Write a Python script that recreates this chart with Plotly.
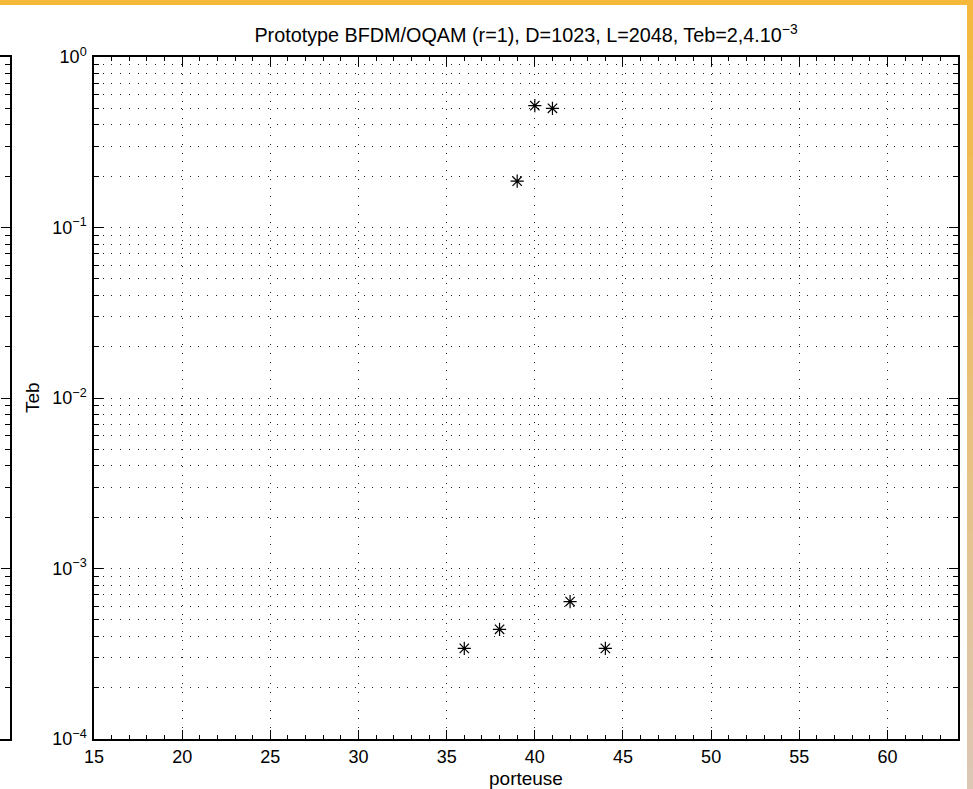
import plotly.graph_objects as go

# Measured bit error rate per carrier
porteuse = [36, 38, 39, 40, 41, 42, 44]
teb = [3.4e-4, 4.4e-4, 0.187, 0.518, 0.50, 6.4e-4, 3.4e-4]

x_ticks = [15, 20, 25, 30, 35, 40, 45, 50, 55, 60]
y_exponents = [-4, -3, -2, -1, 0]

W, H = 973, 789
FONT = "Liberation Sans, Arial, Helvetica, sans-serif"
TICK_SIZE = 18
TITLE_SIZE = 19.8
LABEL_SIZE = 19

# plot box in pixels
L, R, T, B = 94, 958, 57, 739
xdom = [L / W, R / W]
ydom = [(H - B) / H, (H - T) / H]

y_major = [10.0 ** e for e in y_exponents]
y_text = ["10<sup>%s</sup>" % (str(e).replace("-", "\u2212")) for e in y_exponents]
y_minor = [m * 10.0 ** e for e in y_exponents[:-1] for m in range(2, 10)]

GRID_DASH = "1px,7.7px"
GRID_COLOR = "#222"

fig = go.Figure()
fig.add_trace(go.Scatter(
    x=porteuse, y=teb, mode="markers",
    marker=dict(symbol="asterisk-open", size=11, color="black",
                line=dict(color="black", width=1.2)),
    showlegend=False, hoverinfo="x+y",
))

# neighbouring panel: only its right edge is visible
fig.add_trace(go.Scatter(x=[0], y=[1e-5], xaxis="x2", yaxis="y2",
                         mode="markers", marker=dict(opacity=0),
                         showlegend=False, hoverinfo="skip"))

fig.update_layout(
    width=W, height=H, autosize=False,
    margin=dict(l=0, r=0, t=0, b=0, pad=0),
    paper_bgcolor="white", plot_bgcolor="white",
    font=dict(family=FONT, size=TICK_SIZE, color="black"),
    title=dict(
        text="Prototype BFDM/OQAM (r=1), D=1023, L=2048, Teb=2,4.10<sup>\u22123</sup>",
        x=(L + R) / 2 / W, xanchor="center",
        y=1 - 42 / H, yanchor="bottom", yref="container", xref="container",
        font=dict(family=FONT, size=TITLE_SIZE, color="black"),
    ),
    xaxis=dict(
        domain=xdom, range=[15, 64], anchor="y", automargin=False,
        tickmode="array", tickvals=x_ticks,
        ticks="inside", ticklen=9, tickwidth=1, tickcolor="black",
        showline=True, linecolor="black", linewidth=1.5, mirror="ticks",
        showgrid=True, gridcolor=GRID_COLOR, gridwidth=1, griddash=GRID_DASH,
        zeroline=False,
        minor=dict(dtick=1, tick0=15, ticks="inside", ticklen=4,
                   tickcolor="black", tickwidth=1, showgrid=False),
        tickfont=dict(family=FONT, size=TICK_SIZE),
        ticklabelstandoff=1,
    ),
    yaxis=dict(
        domain=ydom, type="log", range=[-4, 0], anchor="x", automargin=False,
        tickmode="array", tickvals=y_major, ticktext=y_text,
        ticks="inside", ticklen=9, tickwidth=1, tickcolor="black",
        showline=True, linecolor="black", linewidth=1.5, mirror="ticks",
        showgrid=True, gridcolor=GRID_COLOR, gridwidth=1, griddash=GRID_DASH,
        zeroline=False,
        minor=dict(tickmode="array", tickvals=y_minor, ticks="inside",
                   ticklen=5, tickcolor="black", tickwidth=1,
                   showgrid=True, gridcolor=GRID_COLOR, gridwidth=1,
                   griddash=GRID_DASH),
        tickfont=dict(family=FONT, size=TICK_SIZE),
        ticklabelstandoff=2,
    ),
    xaxis2=dict(
        domain=[0, 9.5 / W], range=[0, 1], anchor="y2", automargin=False,
        showticklabels=False, ticks="", showgrid=False, zeroline=False,
        showline=True, linecolor="black", linewidth=1.5, mirror=True,
    ),
    yaxis2=dict(
        domain=ydom, type="log", range=[-4, 0], anchor="x2", side="right",
        automargin=False,
        tickmode="array", tickvals=y_major, showticklabels=False,
        ticks="inside", ticklen=9, tickwidth=1, tickcolor="black",
        showline=True, linecolor="black", linewidth=1.5,
        showgrid=False, zeroline=False,
        minor=dict(tickmode="array", tickvals=y_minor, ticks="inside",
                   ticklen=5, tickcolor="black", tickwidth=1, showgrid=False),
    ),
    annotations=[
        dict(text="porteuse", xref="paper", yref="paper",
             x=(L + R) / 2 / W, y=1 - 778 / H, xanchor="center", yanchor="middle",
             showarrow=False, font=dict(family=FONT, size=LABEL_SIZE, color="black")),
        dict(text="Teb", xref="paper", yref="paper", textangle=-90,
             x=33 / W, y=1 - 398 / H, xanchor="center", yanchor="middle",
             showarrow=False, font=dict(family=FONT, size=LABEL_SIZE, color="black")),
    ],
)

# orange page frame: solid top band, right band fading to beige
shapes = [dict(type="rect", xref="paper", yref="paper", x0=0, x1=1,
               y0=1 - 5 / H, y1=1, fillcolor="#F4B93B", line=dict(width=0),
               layer="above")]
top_rgb = (244, 185, 59)
bot_rgb = (220, 199, 182)
n = 40
for i in range(n):
    t = (i + 0.5) / n
    c = tuple(round(a + (b - a) * t) for a, b in zip(top_rgb, bot_rgb))
    shapes.append(dict(type="rect", xref="paper", yref="paper",
                       x0=967 / W, x1=1, y0=1 - (i + 1) / n, y1=1 - i / n + 0.001,
                       fillcolor="rgb(%d,%d,%d)" % c, line=dict(width=0),
                       layer="above"))
fig.update_layout(shapes=shapes)

fig.write_html("out.html")
